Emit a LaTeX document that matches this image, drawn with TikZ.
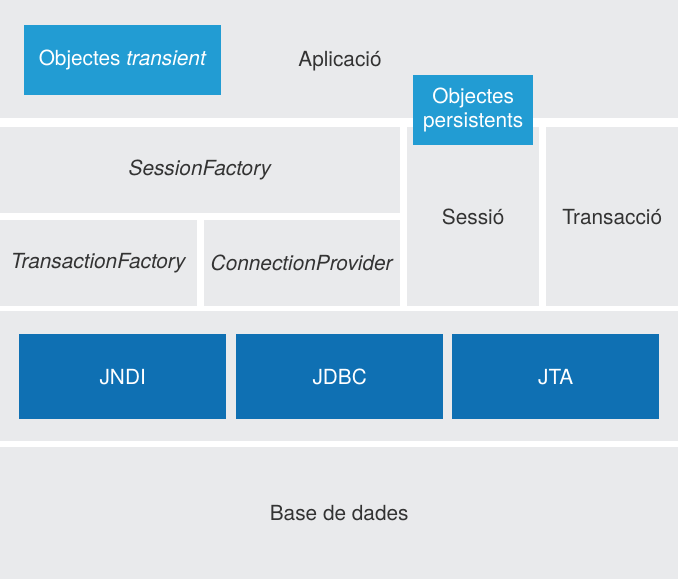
\documentclass[tikz,border=0pt]{standalone}
\usepackage{fontspec}
\setmainfont{TeX Gyre Heros}
\usetikzlibrary{positioning}
\definecolor{bandgray}{HTML}{E9EAEC}
\definecolor{lightblue}{HTML}{229CD3}
\definecolor{darkblue}{HTML}{0F70B3}
\definecolor{textgray}{HTML}{333333}

\begin{document}
\begin{tikzpicture}[
    x=1pt, y=-1pt,
    font=\fontsize{20.8}{24.5}\selectfont,
    layer/.style={rectangle, fill=bandgray, text=textgray, inner sep=0pt, anchor=north west, align=center},
    objbox/.style={rectangle, fill=lightblue, text=white, inner sep=0pt, anchor=north west, align=center},
    apibox/.style={rectangle, fill=darkblue, text=white, inner sep=0pt, anchor=north west, align=center},
    size/.style 2 args={minimum width=#1pt, minimum height=#2pt}
]
\useasboundingbox (0,0) rectangle (678,579);
% Application layer
\node[layer, size={678}{118}] (app) at (0,0) {};
\node[text=textgray] (applabel) at (340,61) {Aplicació};
\node[objbox, size={197}{70}] (transient) at (24,25) {Objectes \textit{transient}};
% Hibernate layer
\node[layer, size={400}{86}] (sessfactory) at (0,127) {\textit{SessionFactory}};
\node[layer, size={197}{86}] (transfactory) at (0,220) {\textit{TransactionFactory}};
\node[layer, size={196}{86}] (connprovider) at (204,220) {\textit{ConnectionProvider}};
\node[layer, size={132}{179}] (sessio) at (407,127) {Sessió};
\node[layer, size={132}{179}] (transaccio) at (546,127) {Transacció};
\node[objbox, size={120}{70}] (persistent) at (413,75) {Objectes\\persistents};
% API layer
\node[layer, size={678}{130}] (apis) at (0,311) {};
\node[apibox, size={207}{85}] (jndi) at (19,334) {JNDI};
\node[apibox, size={207}{85}] (jdbc) at (236,334) {JDBC};
\node[apibox, size={207}{85}] (jta) at (452,334) {JTA};
% Database
\node[layer, size={678}{132}] (bd) at (0,447) {Base de dades};
\end{tikzpicture}
\end{document}
